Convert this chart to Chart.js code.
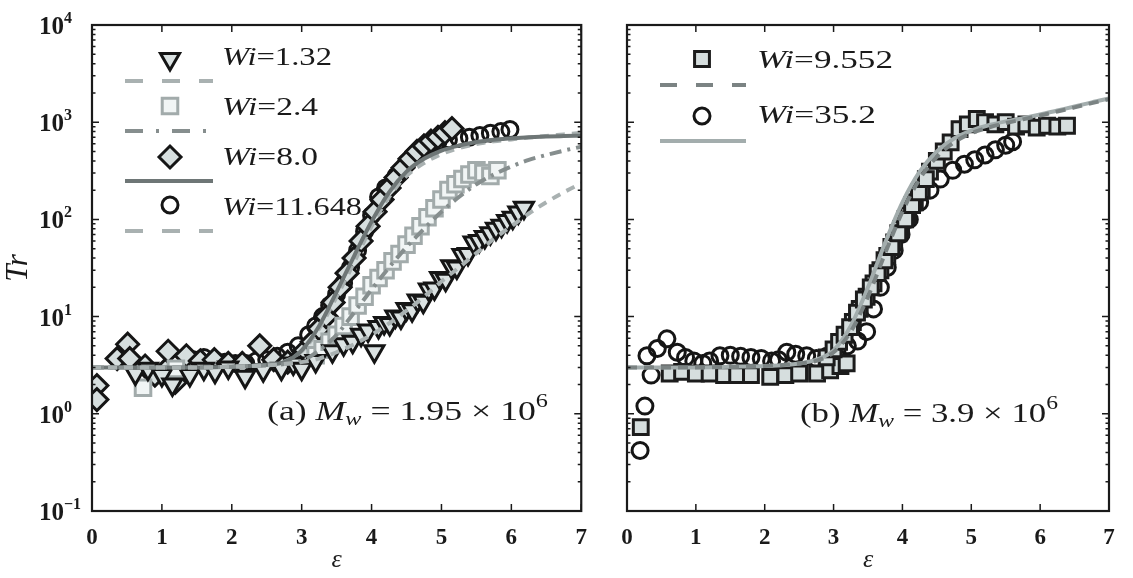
<!DOCTYPE html>
<html>
<head>
<meta charset="utf-8">
<script src="https://cdn.jsdelivr.net/npm/chart.js@4.4.1/dist/chart.umd.min.js"></script>
<style>
  html, body { margin: 0; padding: 0; background: #fff; }
  body { width: 1133px; height: 578px; position: relative; overflow: hidden; }
  #left { position: absolute; left: 0; top: 0; }
  #right { position: absolute; left: 600px; top: 0; }
</style>
</head>
<body>
<canvas id="left" width="600" height="578"></canvas>
<canvas id="right" width="533" height="578"></canvas>
<script>
const SERIF = "'Liberation Serif', 'Times New Roman', Times, serif";
const INK = '#1a1a1a';

// axis ticks
const xTickVals = [0, 1, 2, 3, 4, 5, 6, 7];
const yTickExp = [-1, 0, 1, 2, 3, 4];

// panel (a), Mw = 1.95e6
const tri132X = [0.62,0.8,1.0,1.15,1.4,1.6,1.76,1.95,2.19,2.45,2.71,2.88,3.0,3.2,3.44,3.6,3.73,3.85,3.95,4.04,
  4.1,4.18,4.26,4.34,4.42,4.5,4.58,4.66,4.74,4.82,4.9,4.98,5.06,5.14,5.22,5.3,5.38,5.46,5.54,5.62,5.7,5.78,5.86,5.94,6.02,6.1,6.18];
const tri132Y = [2.6,2.9,2.5,2.0,2.5,2.9,2.7,3.0,2.4,2.8,2.9,3.3,2.9,3.5,4.4,5.2,5.5,6.5,7.2,4.4,
  7.8,8.6,8.4,10.0,9.8,12.0,11.6,14.6,14.2,19.0,19.5,25,24,33,32,43,44,58,60,66,72,80,86,96,104,118,132];

const sq24X = [0.73,1.2,3.2,3.3,3.4,3.5,3.6,3.7,3.8,3.9,4.0,4.1,4.2,4.3,4.4,4.5,4.6,4.7,4.8,4.9,5.0,5.1,5.2,5.3,5.4,5.5,5.6,5.7,5.8];
const sq24Y = [1.85,2.9,4.0,4.6,5.5,6.5,8,10,13,16,21,25,30,37,44,55,68,85,105,130,160,200,230,260,290,320,300,280,320];

const dia80X = [0.07,0.07,0.36,0.51,0.54,0.76,0.9,1.07,1.09,1.19,1.35,1.55,1.75,1.95,2.15,2.4,2.6,2.8,2.95,3.05,
  3.15,3.25,3.35,3.45,3.55,3.65,3.75,3.85,3.95,4.05,4.15,4.25,4.35,4.45,4.55,4.65,4.75,4.85,4.95,5.05,5.15];
const dia80Y = [1.95,1.4,3.7,5.2,3.7,3.1,2.5,2.9,4.4,2.1,3.95,3.5,3.6,3.3,3.3,5.0,3.6,3.4,3.6,4.5,
  5.5,7.5,10,14,20,28,40,60,85,120,160,210,270,340,420,500,570,640,700,780,860];

const cir116X = [1.45,1.6,1.75,1.9,2.05,2.2,2.35,2.5,2.65,2.8,2.95,3.1,3.2,3.3,3.4,3.5,3.6,3.7,3.8,3.9,
  4.0,4.1,4.2,4.35,4.5,4.65,4.8,4.95,5.1,5.25,5.4,5.55,5.7,5.85,5.98];
const cir116Y = [3.6,3.8,3.6,3.4,3.3,3.3,3.5,3.6,3.9,4.3,5.0,6.5,8,10,13,17,22,32,48,75,
  110,170,210,280,380,470,560,630,660,680,700,730,770,800,840];

const fitX = [0,0.5,1,1.5,2,2.5,2.75,3,3.25,3.5,3.75,4,4.25,4.5,4.75,5,5.25,5.5,5.75,6,6.25,6.5,6.75,7];
const fit132 = [3.0,3.0,3.0,3.0,3.05,3.15,3.25,3.4,3.7,4.3,5.2,6.5,8.5,11.5,16,23,32,45,63,85,115,150,190,235];
const fit24 = [3.0,3.0,3.0,3.0,3.05,3.15,3.25,3.5,4.5,6.5,11,19,32,52,80,120,170,230,290,350,410,460,510,560];
const fit80 = [3.0,3.0,3.0,3.0,3.05,3.2,3.4,4.5,8,18,42,95,190,310,420,510,575,625,660,685,700,712,720,727];
const fit116 = [3.0,3.0,3.0,3.0,3.05,3.2,3.45,4.4,7.5,16,36,85,170,280,380,470,540,595,635,665,695,722,748,775];

// panel (b), Mw = 3.9e6
const sq955X = [0.2,0.62,0.8,1.0,1.2,1.41,1.6,1.8,2.08,2.3,2.5,2.76,2.95,3.1,3.19,3.28,3.38,3.48,3.58,3.68,
  3.78,3.88,3.98,4.08,4.18,4.28,4.4,4.5,4.6,4.7,4.83,4.95,5.08,5.2,5.35,5.5,5.65,5.8,5.95,6.1,6.25,6.39,
  2.9,3.0,3.08,3.16,3.24,3.34,3.44,3.54,3.64,3.74,3.84,3.94,4.04,4.14,4.24,4.34];
const sq955Y = [0.73,2.6,2.7,2.6,2.6,2.5,2.5,2.5,2.4,2.5,2.6,2.6,2.8,3.1,3.3,8.8,12,16,22,30,
  42,58,80,110,150,200,310,400,500,620,850,950,1080,1000,950,1000,900,950,880,920,900,920,
  3.8,4.6,5.5,6.5,7.8,11,15,20,28,38,52,72,100,140,190,260];

const cir352X = [0.19,0.26,0.29,0.35,0.44,0.58,0.73,0.85,0.97,1.1,1.2,1.35,1.5,1.65,1.8,1.95,2.1,2.2,2.32,2.45,
  2.61,2.75,2.9,3.05,3.2,3.35,3.48,3.58,3.68,3.78,3.88,3.98,4.1,4.25,4.4,4.55,4.73,4.9,5.05,5.2,5.35,5.5,5.6];
const cir352Y = [0.42,1.2,3.95,2.5,4.7,5.9,4.3,3.8,3.5,3.3,3.5,3.95,4.0,3.9,3.8,3.7,3.5,3.6,4.3,4.1,
  3.95,3.7,3.9,4.5,5.0,5.6,7,12,20,32,48,70,100,150,200,260,320,370,410,460,520,580,630];

const fit955 = [3.0,3.0,3.0,3.05,3.1,3.3,3.5,4.3,7,16,45,120,260,440,620,770,880,980,1070,1170,1290,1420,1570,1720];
const fit352 = [3.0,3.0,3.0,3.05,3.1,3.3,3.6,4.5,8,20,58,150,310,500,680,820,930,1020,1100,1200,1320,1450,1600,1750];

function pts(xs, ys) {
    return xs.map((x, i) => ({ x, y: ys[i] }));
}

function markers(label, xs, ys, style) {
    return {
        type: 'scatter',
        label,
        data: pts(xs, ys),
        order: 1,
        pointStyle: style.shape,
        pointRadius: style.r,
        pointHoverRadius: style.r,
        pointRotation: style.rot || 0,
        pointBorderWidth: style.bw || 3,
        pointBorderColor: style.stroke,
        pointBackgroundColor: style.fill
    };
}

function fitLine(label, xs, ys, color, dash, legendDash) {
    return {
        type: 'line',
        label,
        data: pts(xs, ys),
        order: 0,
        borderColor: color,
        borderWidth: 4,
        borderDash: dash,
        legendDash,
        pointRadius: 0,
        fill: false,
        cubicInterpolationMode: 'monotone'
    };
}

function drawMarker(ctx, ds, x, y) {
    ctx.save();
    ctx.fillStyle = ds.pointBackgroundColor;
    ctx.strokeStyle = ds.pointBorderColor;
    ctx.lineWidth = ds.pointBorderWidth;
    Chart.helpers.drawPoint(ctx, {
        pointStyle: ds.pointStyle,
        radius: ds.pointRadius,
        rotation: ds.pointRotation,
        borderWidth: ds.pointBorderWidth
    }, x, y);
    ctx.restore();
}

function drawRuns(ctx, runs, x, base, width) {
    let total = 0;
    runs.forEach(r => { ctx.font = r.font; r.w = ctx.measureText(r.t).width; total += r.w; });
    const k = width ? width / total : 1;
    ctx.save();
    ctx.translate(x, base);
    ctx.scale(k, 1);
    ctx.fillStyle = INK;
    ctx.textAlign = 'left';
    ctx.textBaseline = 'alphabetic';
    let cx = 0;
    runs.forEach(r => { ctx.font = r.font; ctx.fillText(r.t, cx, r.dy || 0); cx += r.w; });
    ctx.restore();
}

const framePlugin = {
    id: 'frame',
    afterDraw(chart, args, opts) {
        const { ctx, chartArea: a } = chart;
        const x = chart.scales.x, y = chart.scales.y;
        ctx.save();
        ctx.strokeStyle = INK;
        ctx.lineWidth = 1.5;
        ctx.beginPath();
        xTickVals.forEach(v => {
            const px = x.getPixelForValue(v);
            ctx.moveTo(px, a.bottom); ctx.lineTo(px, a.bottom - 7);
            ctx.moveTo(px, a.top); ctx.lineTo(px, a.top + 7);
        });
        yTickExp.forEach(e => {
            for (let m = 1; m <= 9; m++) {
                const v = m * Math.pow(10, e);
                if (v > y.max * 1.0001) break;
                const py = y.getPixelForValue(v);
                const len = m === 1 ? 7 : 3.5;
                ctx.moveTo(a.left, py); ctx.lineTo(a.left + len, py);
                ctx.moveTo(a.right, py); ctx.lineTo(a.right - len, py);
            }
        });
        ctx.stroke();
        ctx.lineWidth = 2.2;
        ctx.strokeRect(a.left, a.top, a.right - a.left, a.bottom - a.top);

        if (opts.yLabels) {
            ctx.fillStyle = INK;
            ctx.textAlign = 'left';
            ctx.textBaseline = 'alphabetic';
            yTickExp.forEach(e => {
                const py = y.getPixelForValue(Math.pow(10, e));
                ctx.font = 'bold 25px ' + SERIF;
                ctx.fillText('10', 39, py + 9);
                const w = ctx.measureText('10').width;
                ctx.font = 'bold 16px ' + SERIF;
                ctx.fillText(e < 0 ? '\u2212' + (-e) : String(e), 39 + w, py - 2);
            });
        }

        // legend
        (opts.legend || []).forEach(row => {
            const mk = chart.data.datasets[row.marker];
            const ln = chart.data.datasets[row.line];
            drawMarker(ctx, mk, row.mx, row.my);
            ctx.save();
            ctx.strokeStyle = ln.borderColor;
            ctx.lineWidth = 4;
            ctx.setLineDash(ln.legendDash || []);
            ctx.beginPath();
            ctx.moveTo(row.lx1, row.ly);
            ctx.lineTo(row.lx2, row.ly);
            ctx.stroke();
            ctx.restore();
            drawRuns(ctx, [
                { t: 'Wi', font: 'italic 26px ' + SERIF },
                { t: '=' + mk.label, font: '26px ' + SERIF }
            ], row.tx, row.ty, row.tw);
        });

        if (opts.note) {
            const n = opts.note;
            drawRuns(ctx, [
                { t: n.tag + ' ', font: '28px ' + SERIF },
                { t: 'M', font: 'italic 28px ' + SERIF },
                { t: 'w', font: 'italic 19px ' + SERIF, dy: 5 },
                { t: ' = ' + n.mant + ' \u00d7 10', font: '28px ' + SERIF },
                { t: n.exp, font: '19px ' + SERIF, dy: -13 }
            ], n.x, n.y, n.w);
        }
        ctx.restore();
    }
};

function xScale(showTitle) {
    return {
        type: 'linear',
        min: 0,
        max: 7,
        afterBuildTicks: s => { s.ticks = xTickVals.map(v => ({ value: v })); },
        afterFit: s => { s.height = 67; },
        grid: { display: false, drawTicks: false },
        border: { display: false },
        ticks: { color: INK, padding: 13, font: { family: SERIF, size: 23, weight: 'bold' } },
        title: { display: showTitle, text: '\u03b5', color: INK, padding: { top: 0, bottom: 2 },
                 font: { family: SERIF, size: 26, style: 'italic' } }
    };
}

function yScale(width, title) {
    return {
        type: 'logarithmic',
        min: 0.1,
        max: 10000,
        afterFit: s => { s.width = width; },
        grid: { display: false, drawTicks: false },
        border: { display: false },
        ticks: { display: false },
        title: { display: !!title, text: title || '', color: INK, padding: { top: 0 },
                 font: { family: SERIF, size: 31, style: 'italic' } }
    };
}

const lightGray = '#a9b1b1';

const leftData = [
    markers('1.32', tri132X, tri132Y, { shape: 'triangle', r: 11, rot: 180, stroke: '#151515', fill: '#dbe2e2' }),
    markers('2.4', sq24X, sq24Y, { shape: 'rect', r: 11, stroke: '#a2abab', fill: '#f1f5f5' }),
    markers('8.0', dia80X, dia80Y, { shape: 'rectRot', r: 11, stroke: '#151515', fill: '#d6dede' }),
    markers('11.648', cir116X, cir116Y, { shape: 'circle', r: 8, stroke: '#151515', fill: 'rgba(255,255,255,0)' }),
    fitLine('fit 1.32', fitX, fit132, lightGray, [9, 7], [18, 19]),
    fitLine('fit 2.4', fitX, fit24, '#868e8e', [12, 6, 3, 6], [18, 13, 3, 13]),
    fitLine('fit 8.0', fitX, fit80, '#6e7676', [], []),
    fitLine('fit 11.648', fitX, fit116, lightGray, [9, 7], [18, 19])
];

const rightData = [
    markers('9.552', sq955X, sq955Y, { shape: 'rect', r: 10.5, stroke: '#1c1c1c', fill: '#d6dede' }),
    markers('35.2', cir352X, cir352Y, { shape: 'circle', r: 8, stroke: '#151515', fill: 'rgba(255,255,255,0)' }),
    fitLine('fit 9.552', fitX, fit955, '#7b8383', [10, 7], [17, 19]),
    fitLine('fit 35.2', fitX, fit352, '#a3adad', [], [])
];

new Chart(document.getElementById('left'), {
    type: 'scatter',
    data: { datasets: leftData },
    plugins: [framePlugin],
    options: {
        responsive: false,
        animation: false,
        events: [],
        layout: { padding: { top: 25, right: 17, left: 0, bottom: 0 } },
        scales: { x: xScale(true), y: yScale(92, 'Tr') },
        plugins: {
            legend: { display: false },
            tooltip: { enabled: false },
            frame: {
                yLabels: true,
                legend: [
                    { marker: 0, line: 4, mx: 170, my: 59, lx1: 125, lx2: 213, ly: 81, tx: 222, ty: 65, tw: 110 },
                    { marker: 1, line: 5, mx: 170, my: 106, lx1: 125, lx2: 213, ly: 131, tx: 222, ty: 115, tw: 96 },
                    { marker: 2, line: 6, mx: 170, my: 157, lx1: 125, lx2: 213, ly: 181, tx: 222, ty: 165, tw: 96 },
                    { marker: 3, line: 7, mx: 170, my: 205, lx1: 125, lx2: 213, ly: 231, tx: 222, ty: 215, tw: 140 }
                ],
                note: { tag: '(a)', mant: '1.95', exp: '6', x: 267, y: 420, w: 281 }
            }
        }
    }
});

new Chart(document.getElementById('right'), {
    type: 'scatter',
    data: { datasets: rightData },
    plugins: [framePlugin],
    options: {
        responsive: false,
        animation: false,
        events: [],
        layout: { padding: { top: 25, right: 24, left: 0, bottom: 0 } },
        scales: { x: xScale(true), y: yScale(27, '') },
        plugins: {
            legend: { display: false },
            tooltip: { enabled: false },
            frame: {
                yLabels: false,
                legend: [
                    { marker: 0, line: 2, mx: 102, my: 59, lx1: 60, lx2: 146, ly: 85, tx: 157, ty: 68, tw: 136 },
                    { marker: 1, line: 3, mx: 102, my: 116, lx1: 60, lx2: 146, ly: 141, tx: 157, ty: 123, tw: 119 }
                ],
                note: { tag: '(b)', mant: '3.9', exp: '6', x: 200, y: 422, w: 258 }
            }
        }
    }
});
</script>
</body>
</html>
